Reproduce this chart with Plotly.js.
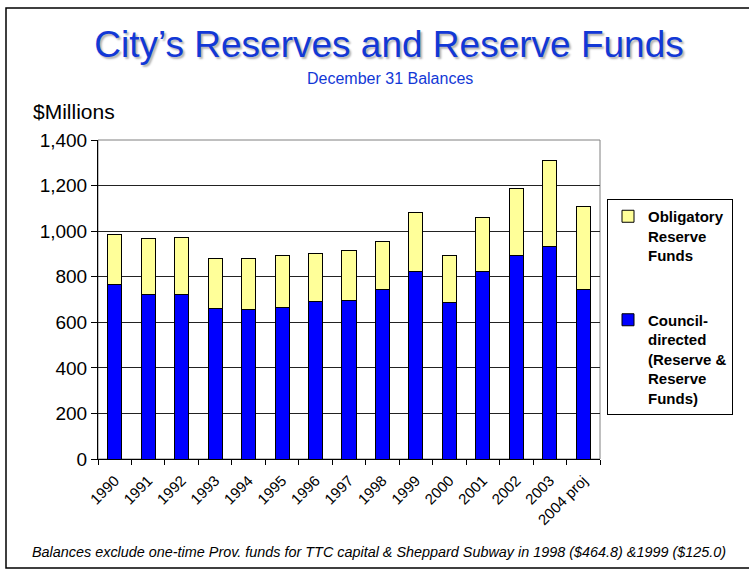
<!DOCTYPE html>
<html>
<head>
<meta charset="utf-8">
<script src="https://cdn.plot.ly/plotly-3.0.1.min.js"></script>
<style>
  html, body { margin: 0; padding: 0; background: #ffffff; }
  #chart { width: 749px; height: 569px; }
</style>
</head>
<body>
<div id="chart"></div>
<script>
// December 31 balances, $ millions
const years = ['1990', '1991', '1992', '1993', '1994', '1995', '1996', '1997',
               '1998', '1999', '2000', '2001', '2002', '2003', '2004 proj'];
const councilDirected = [767, 724, 724, 660, 657, 667, 692, 697, 746, 822, 685, 822, 891, 933, 746];
const obligatory      = [217, 242, 247, 221, 224, 224, 209, 220, 208, 262, 210, 239, 297, 378, 361];
const yTicks = [0, 200, 400, 600, 800, 1000, 1200, 1400];

const FONT = 'Liberation Sans, Arial, Helvetica, sans-serif';
const BLUE_TEXT = '#1238d6';

// plot area in page pixels
const L = 98, R = 600, T = 140, B = 459;
const W = 749, H = 569;
const px = x => (x - L) / (R - L);
const py = y => (B - y) / (B - T);

const traces = [
  {
    type: 'bar', name: 'Council-<br>directed<br>(Reserve &<br>Reserve<br>Funds)',
    x: years, y: councilDirected, legendgroup: 'c', legendrank: 2,
    marker: { color: '#0000ff', line: { color: '#000000', width: 1 } }
  },
  {
    type: 'bar', name: 'Obligatory<br>Reserve<br>Funds',
    x: years, y: obligatory, legendgroup: 'o', legendrank: 1,
    marker: { color: '#ffff99', line: { color: '#000000', width: 1 } }
  }
];

const layout = {
  width: W, height: H,
  margin: { l: L, r: W - R, t: T, b: H - B, pad: 0 },
  paper_bgcolor: '#ffffff', plot_bgcolor: '#ffffff',
  barmode: 'stack', bargap: 0.58,
  font: { family: FONT, color: '#000000' },
  title: {
    text: 'City’s Reserves and Reserve Funds',
    font: { family: FONT, size: 37, color: BLUE_TEXT, shadow: '2px 2px 2px rgba(0,0,0,0.3)' },
    xref: 'container', x: 389 / W, xanchor: 'center',
    yref: 'container', y: 1 - 31 / H, yanchor: 'top'
  },
  xaxis: {
    type: 'category', tickangle: -45,
    tickfont: { family: FONT, size: 15, color: '#000' },
    ticks: 'outside', ticklen: 5, tickcolor: '#000', tickson: 'boundaries',
    ticklabelstandoff: 6,
    showline: true, linecolor: '#000', linewidth: 1, showgrid: false
  },
  yaxis: {
    range: [0, 1400], tickvals: yTicks, tickformat: ',d',
    tickfont: { family: FONT, size: 19, color: '#000' },
    ticks: 'outside', ticklen: 6, tickcolor: '#000',
    showline: true, linecolor: '#000', linewidth: 1,
    showgrid: true, gridcolor: '#222222', gridwidth: 1, zeroline: false
  },
  legend: {
    x: px(607), xanchor: 'left', y: py(199), yanchor: 'top',
    bordercolor: '#000', borderwidth: 1, bgcolor: '#ffffff',
    font: { family: FONT, size: 15, color: '#000', weight: 'bold' },
    traceorder: 'grouped', tracegroupgap: 42, valign: 'top'
  },
  shapes: [
    { type: 'rect', xref: 'paper', yref: 'paper', layer: 'below',
      x0: 0, x1: 1, y0: 0, y1: 1, line: { color: '#808080', width: 1 } },
    { type: 'rect', xref: 'paper', yref: 'paper',
      x0: px(6), x1: px(790), y0: py(568), y1: py(8),
      line: { color: '#000000', width: 1.5 } }
  ],
  annotations: [
    { text: 'December 31 Balances', xref: 'paper', yref: 'paper',
      x: px(389.5), y: py(78), xanchor: 'center', yanchor: 'middle', showarrow: false,
      font: { family: FONT, size: 16, color: BLUE_TEXT } },
    { text: '$Millions', xref: 'paper', yref: 'paper',
      x: px(31), y: py(111), xanchor: 'left', yanchor: 'middle', showarrow: false,
      font: { family: FONT, size: 21, color: '#000' } },
    { text: 'Balances exclude one-time Prov. funds for TTC capital & Sheppard Subway in 1998 ($464.8) &1999 ($125.0)',
      xref: 'paper', yref: 'paper',
      x: px(378.5), y: py(552), xanchor: 'center', yanchor: 'middle', showarrow: false,
      font: { family: FONT, size: 14.4, color: '#000', style: 'italic' } }
  ]
};

Plotly.newPlot('chart', traces, layout, { staticPlot: true, displayModeBar: false });
</script>
</body>
</html>
